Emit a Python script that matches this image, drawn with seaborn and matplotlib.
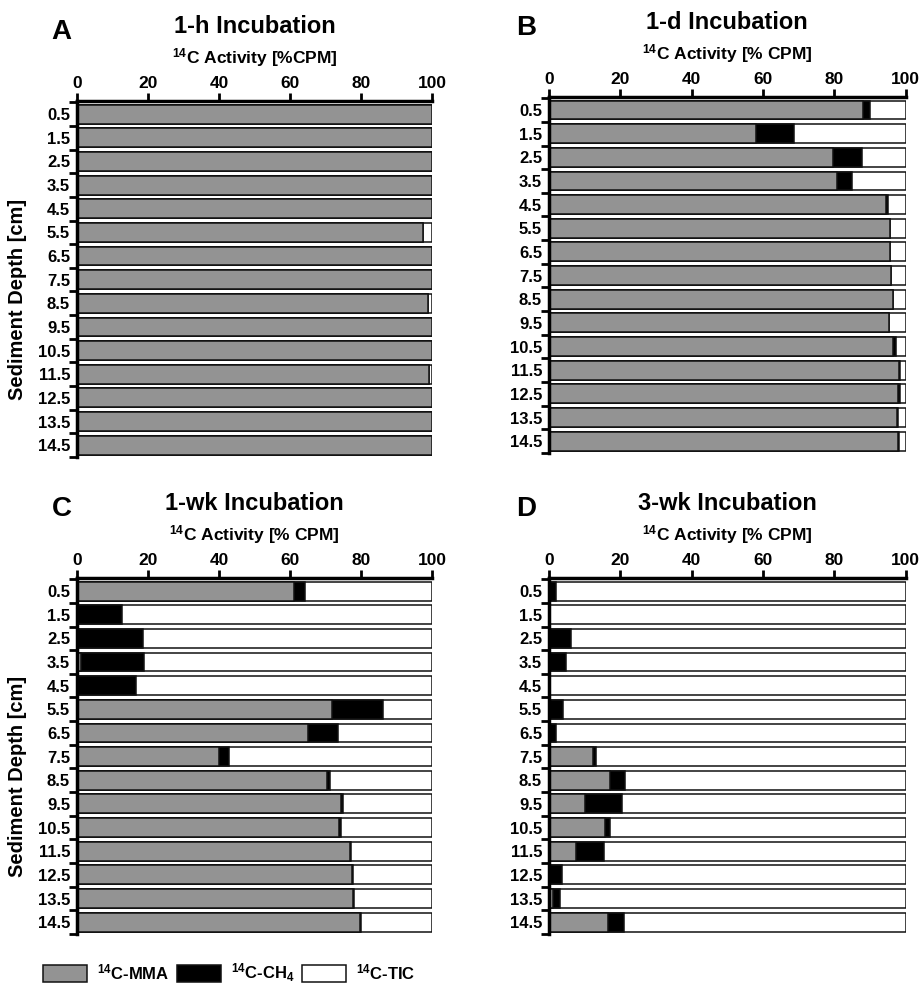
import pandas as pd
import matplotlib.pyplot as plt
import seaborn as sns
from matplotlib.patches import Patch
from matplotlib import font_manager

# sediment depth classes (cm)
depths = ['0.5', '1.5', '2.5', '3.5', '4.5', '5.5', '6.5', '7.5',
          '8.5', '9.5', '10.5', '11.5', '12.5', '13.5', '14.5']

# % CPM recovered as 14C-MMA and 14C-CH4 (rest is 14C-TIC)
mma_1h = [100, 100, 100, 100, 100, 97.5, 100, 100, 98.8, 100, 100, 99.2, 100, 100, 100]
ch4_1h = [0, 0, 0, 0, 0, 0, 0, 0, 0, 0, 0, 0, 0, 0, 0]

mma_1d = [88.0, 57.9, 79.6, 80.6, 94.4, 95.6, 95.6, 96.0, 96.3, 95.4, 96.4, 98.1, 97.9, 97.6, 97.8]
ch4_1d = [2.1, 10.7, 8.2, 4.4, 0.7, 0, 0, 0, 0, 0, 0.8, 0.4, 0.4, 0.3, 0.2]

mma_1wk = [61.1, 0, 0, 1.0, 0, 71.8, 65.0, 39.9, 70.5, 74.3, 73.7, 76.8, 77.4, 77.7, 79.6]
ch4_1wk = [3.2, 12.6, 18.5, 17.8, 16.5, 14.4, 8.4, 3.0, 0.9, 0.7, 0.6, 0.4, 0.4, 0.4, 0.4]

mma_3wk = [0, 0, 0, 0, 0, 0, 0, 12.2, 17.0, 10.0, 15.8, 7.5, 0, 1.2, 16.4]
ch4_3wk = [1.9, 0, 6.1, 4.7, 0, 3.9, 2.0, 1.1, 4.3, 10.5, 1.4, 8.0, 3.7, 1.8, 4.6]

GRAY = '#939393'

sns.set_theme(style='white')
plt.rcParams['font.family'] = ['Liberation Sans', 'DejaVu Sans']
plt.rcParams['font.weight'] = 'bold'
for k in ['text.color', 'axes.labelcolor', 'xtick.color', 'ytick.color']:
    plt.rcParams[k] = 'black'
plt.rcParams['mathtext.fontset'] = 'custom'
plt.rcParams['mathtext.rm'] = 'Liberation Sans:bold'
plt.rcParams['mathtext.it'] = 'Liberation Sans:bold'
plt.rcParams['mathtext.bf'] = 'Liberation Sans:bold'
plt.rcParams['mathtext.default'] = 'rm'

fig = plt.figure(figsize=(9.21, 9.91), dpi=100)

panels = [
    ('A', '1-h Incubation', '$^{14}$C Activity [%CPM]', mma_1h, ch4_1h, [0.0836, 0.5388, 0.3854, 0.3592], True),
    ('B', '1-d Incubation', '$^{14}$C Activity [% CPM]', mma_1d, ch4_1d, [0.5961, 0.5429, 0.3873, 0.3592], False),
    ('C', '1-wk Incubation', '$^{14}$C Activity [% CPM]', mma_1wk, ch4_1wk, [0.0836, 0.0575, 0.3854, 0.3592], True),
    ('D', '3-wk Incubation', '$^{14}$C Activity [% CPM]', mma_3wk, ch4_3wk, [0.5961, 0.0575, 0.3873, 0.3592], False),
]

for letter, title, sub, mma, ch4, rect, show_ylab in panels:
    ax = fig.add_axes(rect)
    df = pd.DataFrame({'Depth': depths, 'MMA': mma, 'CH4': ch4})
    df['TIC'] = 100 - df['MMA'] - df['CH4']
    df['cum_ch4'] = df['MMA'] + df['CH4']
    df['cum_tic'] = df['cum_ch4'] + df['TIC']

    # stacked bars: draw the totals first, then overlay shorter segments
    for col, c in [('cum_tic', 'white'), ('cum_ch4', 'black'), ('MMA', GRAY)]:
        sns.barplot(data=df, x=col, y='Depth', orient='h', color=c,
                    saturation=1, edgecolor='#111111', linewidth=1.1,
                    width=0.8, errorbar=None, ax=ax)

    ax.set_xlim(0, 100)
    ax.set_ylim(14.5, -0.55)
    ax.set_xticks([0, 20, 40, 60, 80, 100])
    ax.xaxis.tick_top()
    ax.tick_params(axis='x', which='major', top=True, bottom=False,
                   labeltop=True, labelbottom=False, direction='out',
                   length=6, width=2, labelsize=12.5, pad=1, color='black')

    ax.set_yticks([i - 0.5 for i in range(16)])
    ax.set_yticklabels([])
    ax.set_yticks(range(15), minor=True)
    ax.set_yticklabels(depths, minor=True)
    ax.tick_params(axis='y', which='major', left=True, direction='out',
                   length=6, width=2, color='black')
    ax.tick_params(axis='y', which='minor', left=True, length=0,
                   labelsize=12, pad=5)

    for s in ['right', 'bottom']:
        ax.spines[s].set_visible(False)
    for s in ['left', 'top']:
        ax.spines[s].set_linewidth(2.5)
        ax.spines[s].set_color('black')

    ax.set_xlabel('')
    if show_ylab:
        ax.set_ylabel('Sediment Depth [cm]', fontsize=14.5, fontweight='bold')
        ax.yaxis.set_label_coords(-0.141, 0.444)
    else:
        ax.set_ylabel('')

    ax.annotate(title, xy=(0.5, 1), xycoords='axes fraction', xytext=(0, 54),
                textcoords='offset points', ha='center', va='center',
                fontsize=17, fontweight='bold')
    ax.annotate(sub, xy=(0.5, 1), xycoords='axes fraction', xytext=(0, 31),
                textcoords='offset points', ha='center', va='center',
                fontsize=12.5, fontweight='bold')
    dx = -11 if letter in 'AC' else -16.5
    ax.annotate(letter, xy=(0, 1), xycoords='axes fraction', xytext=(dx, 50),
                textcoords='offset points', ha='center', va='center',
                fontsize=20, fontweight='bold')

# legend font: narrow if available, otherwise smaller regular
installed = {f.name for f in font_manager.fontManager.ttflist}
if 'Liberation Sans Narrow' in installed:
    leg_prop = {'family': 'Liberation Sans Narrow', 'weight': 'bold', 'size': 15}
    colsp = 0.9
else:
    leg_prop = {'family': 'Liberation Sans', 'weight': 'bold', 'size': 12}
    colsp = 0.45

handles = [Patch(facecolor=GRAY, edgecolor='#111111', linewidth=1.1),
           Patch(facecolor='black', edgecolor='#111111', linewidth=1.1),
           Patch(facecolor='white', edgecolor='#111111', linewidth=1.1)]
labels = ['$^{14}$C-MMA', '$^{14}$C-CH$_4$', '$^{14}$C-TIC']
fig.legend(handles, labels, loc='center left', bbox_to_anchor=(0.0467, 0.0182),
           ncol=3, frameon=False, borderpad=0, borderaxespad=0,
           handlelength=44 / (leg_prop['size'] * 100 / 72),
           handleheight=19 / (leg_prop['size'] * 100 / 72),
           handletextpad=10 / (leg_prop['size'] * 100 / 72),
           columnspacing=colsp, prop=leg_prop)

fig.savefig('out.png', dpi=100, facecolor='white')
